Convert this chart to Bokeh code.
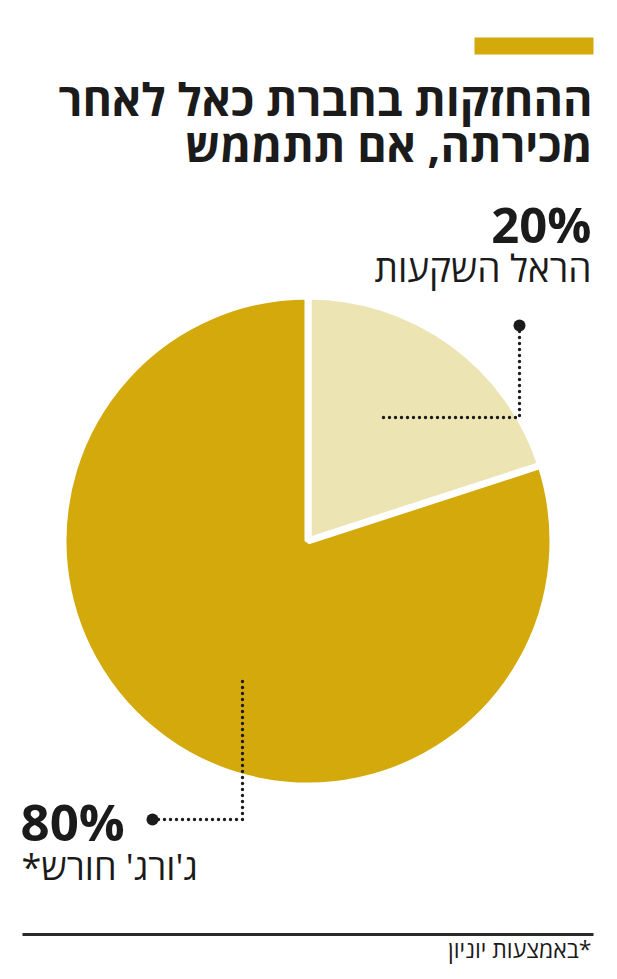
from bokeh.plotting import figure
from bokeh.embed import file_html
from bokeh.resources import INLINE
from bokeh.core.properties import value
import math

# ---- data ----
labels = ["הראל השקעות", "ג'ורג' חורש*\u200f"]
shares = [20, 80]
pct_labels = ["20%", "80%"]
colors = ["#EDE4B3", "#D4A90B"]
title_lines = ["ההחזקות בחברת כאל לאחר", "מכירתה, אם תתממש"]
footnote = "\u200f*באמצעות יוניון"

W, H = 617, 979
FONT = value("Open Sans")
INK = "#1b1b1b"
DY = 16  # baseline correction

def Y(py):
    return H - py

def T(py):
    return H - (py - DY)

p = figure(width=W, height=H, x_range=(0, W), y_range=(0, H),
           output_backend="svg", toolbar_location=None,
           x_axis_location=None, y_axis_location=None, min_border=0)
p.outline_line_color = None
p.xgrid.visible = False
p.ygrid.visible = False
p.background_fill_color = "white"

# top accent bar
p.quad(left=[474], right=[593], bottom=[Y(54)], top=[Y(37)],
       fill_color="#D4A90B", line_color=None)

# title
p.text(x=[592, 592], y=[T(114), T(160)], text=title_lines,
       text_font=FONT, text_font_style="bold", text_font_size="45px",
       text_align="right", text_baseline="alphabetic", text_color=INK)

# pie
total = sum(shares)
starts, ends = [], []
cum = 0
for s in shares:
    a0 = math.pi / 2 - 2 * math.pi * (cum + s) / total
    a1 = math.pi / 2 - 2 * math.pi * cum / total
    starts.append(a0)
    ends.append(a1)
    cum += s
cx, cy, r = 307.5, Y(540.5), 245
p.wedge(x=[cx] * len(shares), y=[cy] * len(shares), radius=r,
        start_angle=starts, end_angle=ends, direction="anticlock",
        fill_color=colors, line_color="white", line_width=7)

# leader lines
dot_color = "#1b1b1b"
p.line(x=[519, 519, 380], y=[Y(331), Y(417), Y(417)], line_color=dot_color,
       line_width=3.4, line_dash="0 6", line_cap="round")
p.scatter(x=[519], y=[Y(325)], size=12, marker="circle",
          fill_color=dot_color, line_color=None)
p.line(x=[152, 242, 242], y=[Y(819), Y(819), Y(680)], line_color=dot_color,
       line_width=3.4, line_dash="0 6", line_cap="round")
p.scatter(x=[152], y=[Y(819)], size=12, marker="circle",
          fill_color=dot_color, line_color=None)

# labels
p.text(x=[591], y=[T(239)], text=[pct_labels[0]], text_font=FONT,
       text_font_style="bold", text_font_size="49px", text_align="right",
       text_baseline="alphabetic", text_color=INK)
p.text(x=[591], y=[T(283)], text=[labels[0]], text_font=FONT,
       text_font_size="37px", text_align="right",
       text_baseline="alphabetic", text_color=INK)
p.text(x=[20], y=[T(836)], text=[pct_labels[1]], text_font=FONT,
       text_font_style="bold", text_font_size="51px", text_align="left",
       text_baseline="alphabetic", text_color=INK)
p.text(x=[21], y=[T(882)], text=[labels[1]], text_font=FONT,
       text_font_size="36px", text_align="left",
       text_baseline="alphabetic", text_color=INK)

# bottom rule and footnote
p.line(x=[22, 593], y=[Y(934), Y(934)], line_color="#2a2a2a", line_width=3)
p.text(x=[591], y=[T(964)], text=[footnote], text_font=FONT,
       text_font_size="23px", text_align="right",
       text_baseline="alphabetic", text_color=INK)

open("out.html", "w").write(file_html(p, INLINE))
